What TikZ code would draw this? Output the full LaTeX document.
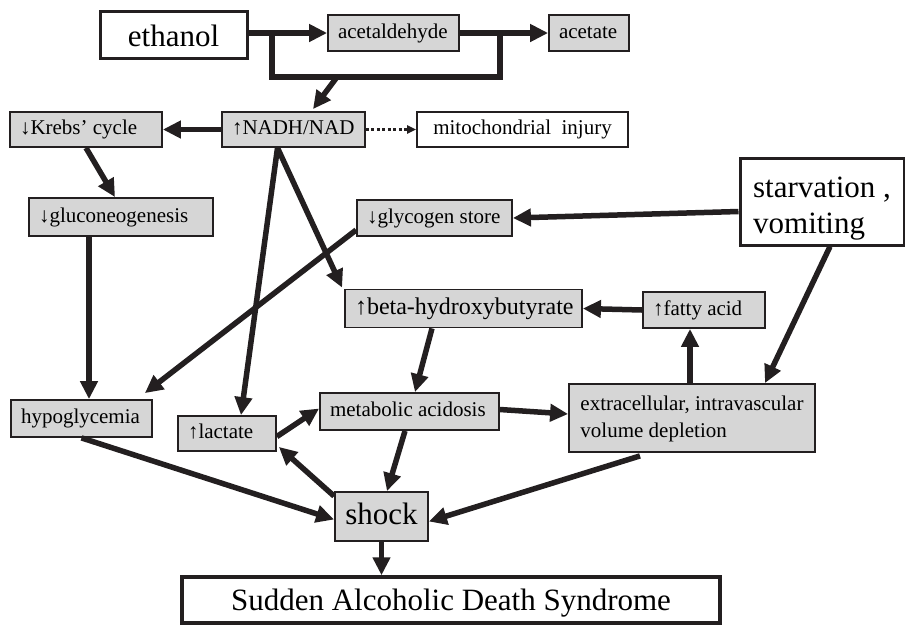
\documentclass[tikz,border=0pt]{standalone}
\usepackage{fontspec}
\setmainfont{Liberation Serif}
\usetikzlibrary{arrows.meta,calc}
\definecolor{ink}{RGB}{35,31,32}
\definecolor{boxgray}{RGB}{214,214,214}
\newcommand\fsz[1]{\fontsize{#1}{#1}\selectfont}
\newcommand\stS{\rule[-5pt]{0pt}{20pt}}
\begin{document}
\begin{tikzpicture}[x=1pt,y=-1pt,
  gbox/.style={draw=ink,line width=1.8pt,fill=boxgray,inner xsep=10pt,inner ysep=0pt,font=\fsz{21}},
  wbox/.style={draw=ink,line width=1.8pt,fill=white,inner sep=0pt,font=\fsz{21}},
  bigbox/.style={draw=ink,line width=3pt,fill=white,inner sep=0pt,font=\fsz{31}},
  arr/.style={draw=ink,line width=5.5pt,-{Triangle[length=18pt,width=17pt]}},
  dotarr/.style={draw=ink,line width=2.5pt,dash pattern=on 3pt off 2.5pt,-{Triangle[length=9pt,width=8pt]}}]
\useasboundingbox (0,0) rectangle (905,625);
% nodes
\node[bigbox,minimum width=147pt,minimum height=47pt] (eth) at (173.5,34.5) {\rule[-3pt]{0pt}{30pt}ethanol};
\node[gbox,minimum height=36pt] (ald) at (393.5,33) {\stS\makebox[111pt][l]{acetaldehyde}};
\node[gbox,minimum height=36pt] (ace) at (589,33) {\stS\makebox[60pt][l]{acetate}};
\node[gbox,minimum height=35pt] (nadh) at (293.5,129.5) {\stS\makebox[123pt][l]{↑NADH/NAD}};
\node[gbox,minimum height=35pt] (krebs) at (86,129.5) {\stS\makebox[132pt][l]{↓Krebs’ cycle}};
\node[wbox,minimum width=211pt,minimum height=35pt] (mito) at (522.5,129.5) {\stS mitochondrial\ \ injury};
\node[gbox,minimum height=38pt] (glu) at (121,217) {\stS\makebox[164pt][l]{↓gluconeogenesis}};
\node[gbox,minimum height=36pt] (gly) at (434.5,218) {\stS\makebox[135pt][l]{↓glycogen store}};
\node[bigbox,minimum width=164pt,minimum height=87pt,align=left,font=\fontsize{31}{36}\selectfont] (starv) at (822,201.5) {\rule{0pt}{34pt}starvation ,\\vomiting\rule[-7pt]{0pt}{7pt}};
\node[gbox,minimum height=38pt,font=\fsz{24}] (beta) at (463.5,308.5) {\rule[-5pt]{0pt}{23pt}\makebox[217pt][l]{↑beta-hydroxybutyrate}};
\node[gbox,minimum height=36pt] (fat) at (704,310) {\stS\makebox[102pt][l]{↑fatty acid}};
\node[gbox,minimum height=37pt] (hypo) at (81.5,418.5) {\stS\makebox[121pt][l]{hypoglycemia}};
\node[gbox,minimum height=35pt] (lac) at (227,433.5) {\stS\makebox[78pt][l]{↑lactate}};
\node[gbox,minimum height=37pt] (met) at (409.5,411.5) {\stS\makebox[159pt][l]{metabolic acidosis}};
\node[gbox,minimum width=246pt,minimum height=68pt,align=left,font=\fontsize{21}{27}\selectfont] (ext) at (692,418) {\rule{0pt}{17pt}extracellular, intravascular\\volume depletion\rule[-6pt]{0pt}{6pt}};
\node[gbox,minimum width=93pt,minimum height=49pt,font=\fsz{31},inner xsep=0pt] (shock) at (381.5,516.5) {\rule[-6pt]{0pt}{28pt}shock};
\node[bigbox,line width=3.5pt,minimum width=538pt,minimum height=46pt] (sads) at (451,600) {\rule[-7.5pt]{0pt}{35.5pt}Sudden Alcoholic Death Syndrome};
% connectors
\draw[arr] (eth.east |- ald.west) -- (ald.west);
\draw[arr] (ald.east) -- (ace.west);
\coordinate (b1) at (272,33);
\coordinate (b2) at (500,33);
\coordinate (b3) at (337,77);
\draw[draw=ink,line width=5.5pt] (b1) -- ++(0,44) -| (b2);
\draw[arr] (b3) -- ([xshift=19.5pt,yshift=2pt]nadh.north);
\draw[arr] (nadh.west) -- (krebs.east);
\draw[dotarr] (nadh.east) -- (mito.west);
\draw[arr] (krebs.south) -- ([xshift=-6pt]glu.north);
\draw[arr] ([xshift=-32pt]glu.south) -- ([xshift=7.5pt]hypo.north);
\draw[arr] ([yshift=-12pt]gly.west) -- ([xshift=-8pt,yshift=6pt]hypo.north east);
\draw[arr] ([yshift=-10pt]starv.west) -- (gly.east);
\draw[arr] ([xshift=8pt]starv.south) -- ([xshift=73pt]ext.north);
\coordinate (n1) at ([xshift=-16pt]nadh.south);
\draw[arr] (n1) -- ([xshift=14pt]lac.north);
\draw[arr] (n1) -- ([xshift=-2pt,yshift=1pt]beta.north west);
\draw[arr] (fat.west) -- (beta.east);
\draw[arr] ([xshift=-2pt]ext.north) -- ([xshift=-2pt]ext.north |- fat.south);
\draw[arr] ([xshift=-31.5pt]beta.south) -- ([xshift=5.5pt]met.north);
\draw[arr] ([yshift=-3pt]lac.east) -- ([yshift=3pt]met.west);
\draw[arr] ([yshift=-5pt]shock.north west) -- ([xshift=2pt,yshift=5pt]lac.south east);
\draw[arr] ([xshift=-4.5pt]met.south) -- ([xshift=5.5pt]shock.north);
\draw[arr] ([yshift=2pt]met.east) -- ([yshift=4pt]ext.west);
\draw[arr] ([xshift=-52pt,yshift=-3pt]ext.south) -- ([yshift=-5pt]shock.east);
\draw[arr] (hypo.south) -- ([yshift=-3pt]shock.west);
\draw[arr] (shock.south) -- (shock.south |- sads.north);
\end{tikzpicture}
\end{document}
